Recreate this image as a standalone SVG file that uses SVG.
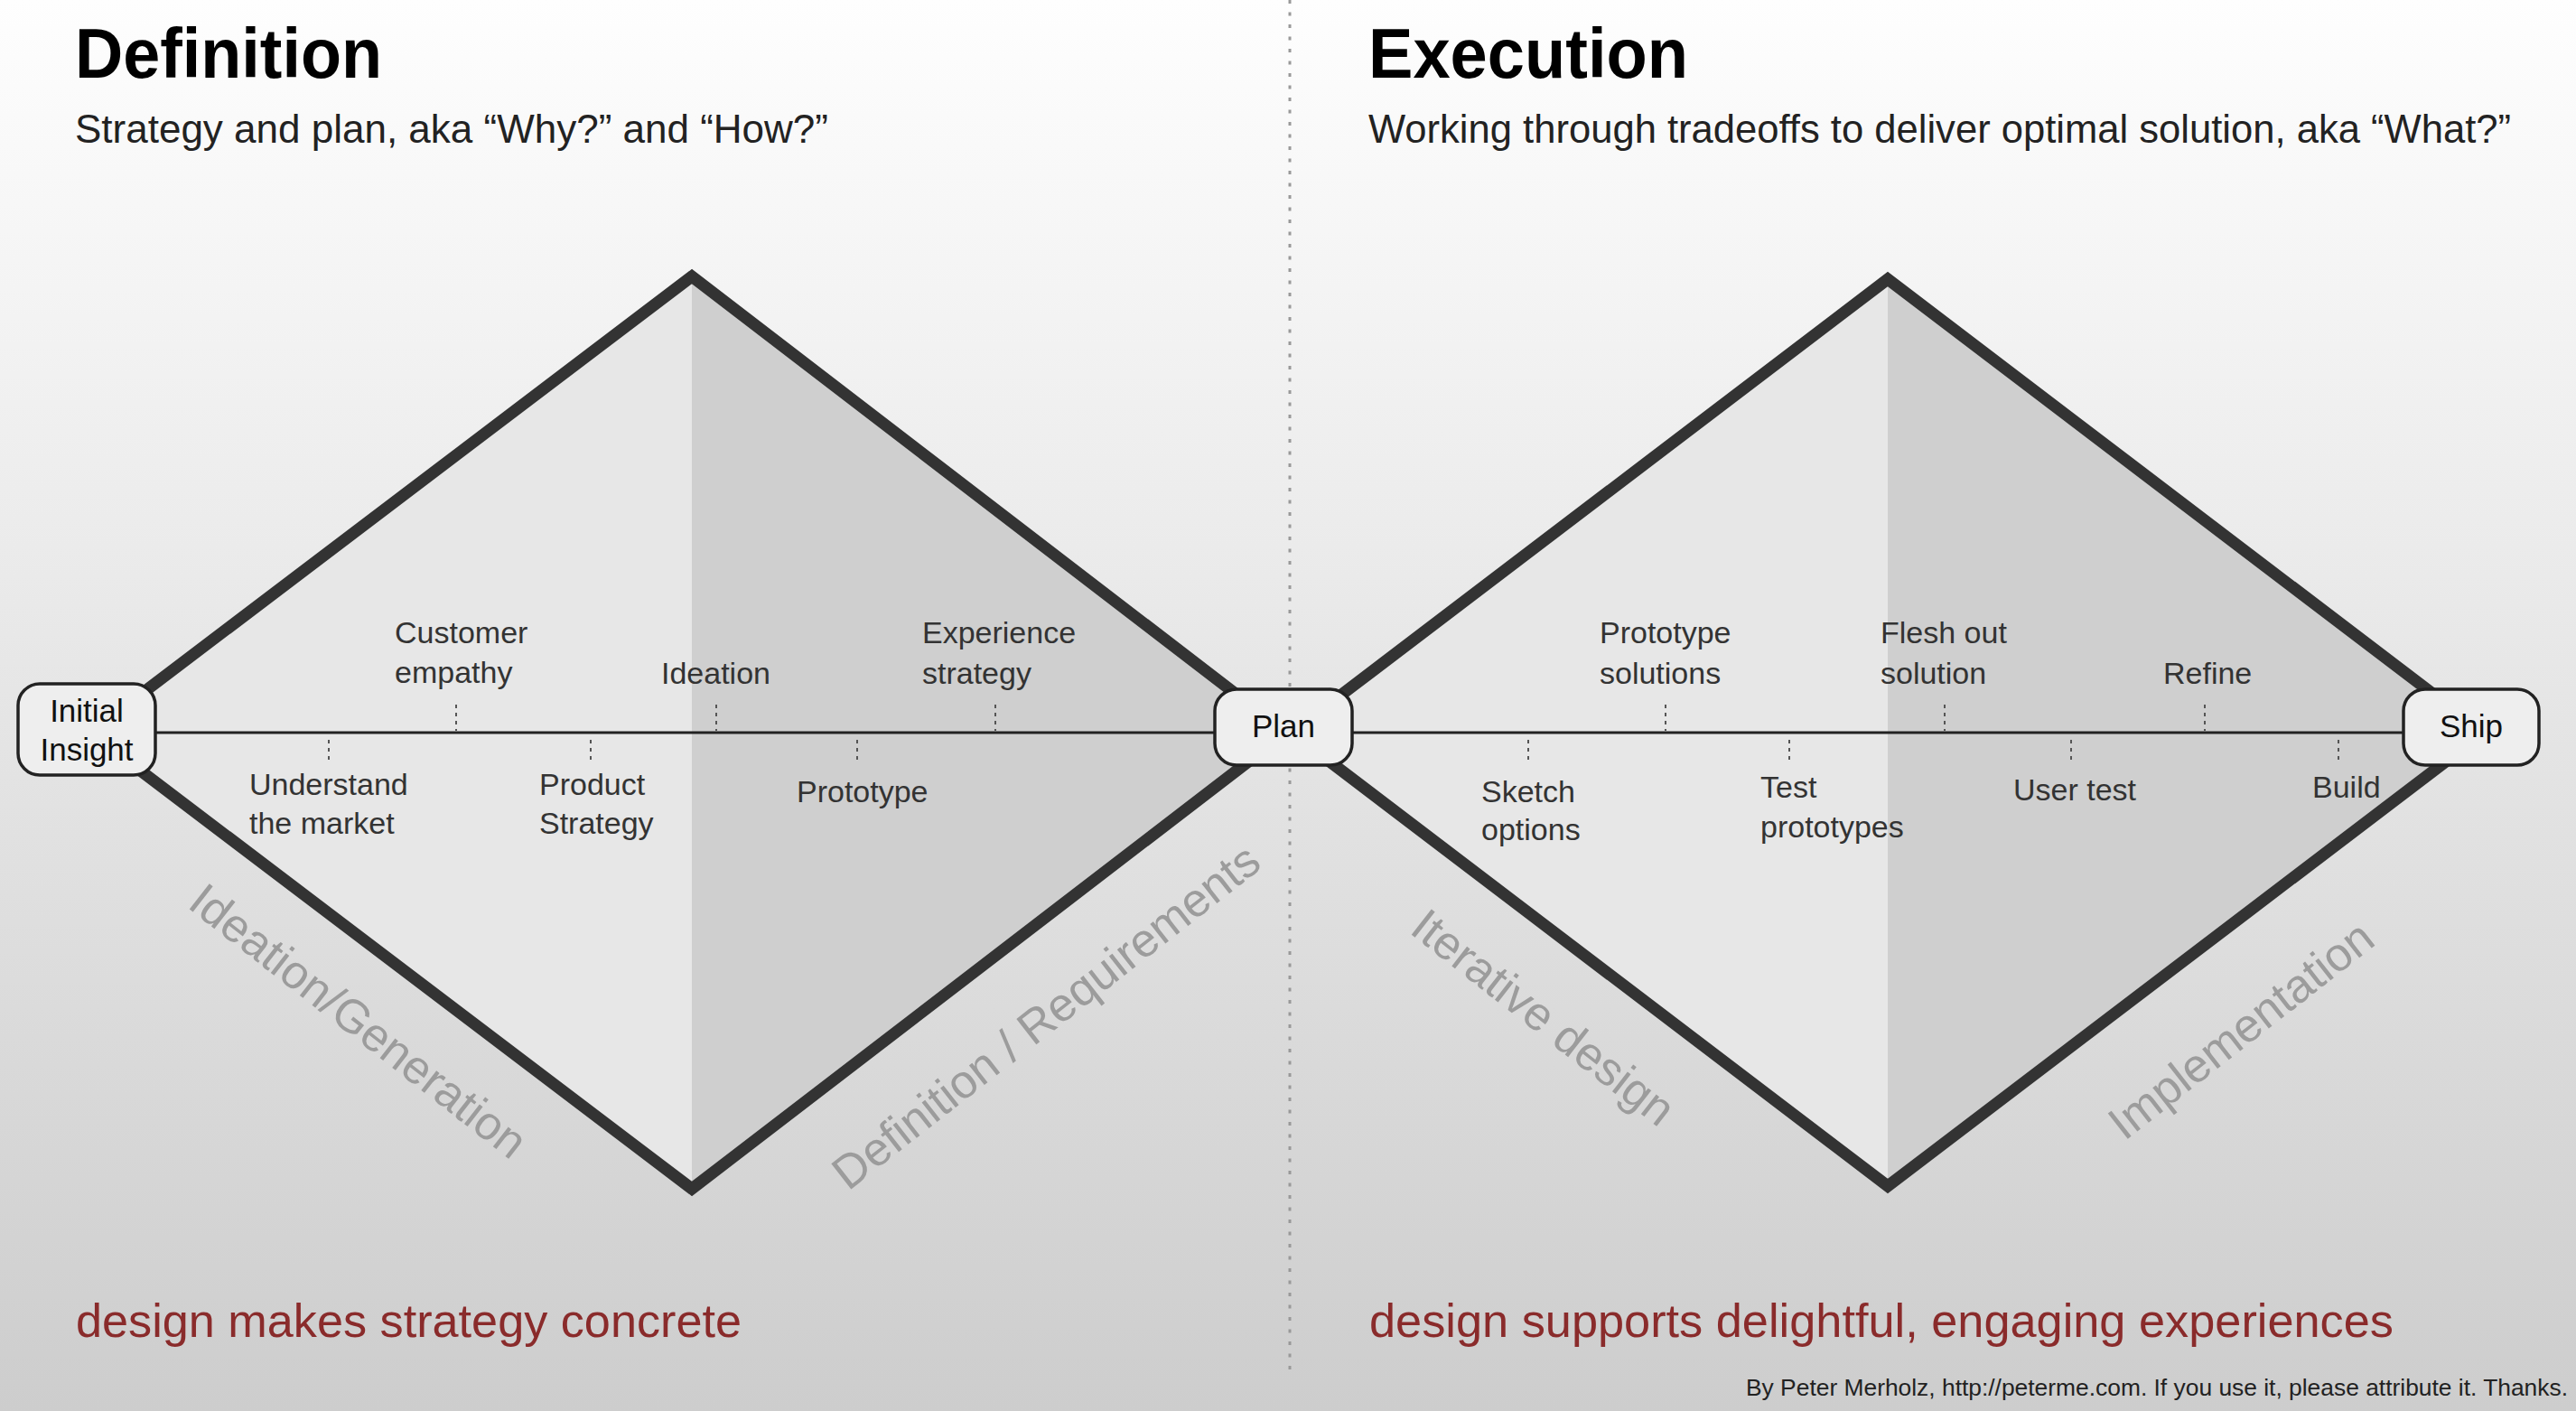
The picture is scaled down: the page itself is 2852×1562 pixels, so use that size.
<svg xmlns="http://www.w3.org/2000/svg" width="2852" height="1562" viewBox="0 0 2852 1562">
<defs>
<linearGradient id="bg" x1="0" y1="0" x2="0" y2="1">
<stop offset="0" stop-color="#fefefe"/>
<stop offset="1" stop-color="#cdcdcd"/>
</linearGradient>
<style>
text{font-family:"Liberation Sans",Arial,Helvetica,sans-serif}
.title{font-size:78px;font-weight:bold;fill:#000}
.sub{font-size:44px;fill:#222}
.lbl{font-size:34px;fill:#333}
.box{fill:#eeeeee;stroke:#222;stroke-width:3.5}
.boxt{font-size:35px;fill:#111;text-anchor:middle}
.edge{fill:none;stroke:#333;stroke-width:13;stroke-linejoin:miter}
.light{fill:#e7e7e7}
.dark{fill:#cfcfcf}
.axis{stroke:#222;stroke-width:3;fill:none}
.tick{stroke:#555;stroke-width:2;stroke-dasharray:4 5;fill:none}
.phase{font-size:52px;fill:#9c9c9c;text-anchor:middle}
.red{font-size:52px;fill:#8a2b2b}
.credit{font-size:26px;fill:#222}
</style>
</defs>
<rect x="0" y="0" width="2852" height="1562" fill="url(#bg)"/>
<line x1="1428" y1="0" x2="1428" y2="1516" stroke="#999" stroke-width="3" stroke-dasharray="4 9.5"/>

<g id="headings">
<text class="title" x="83" y="86" textLength="340" lengthAdjust="spacingAndGlyphs">Definition</text>
<text class="sub" x="83" y="158" textLength="834" lengthAdjust="spacingAndGlyphs">Strategy and plan, aka “Why?” and “How?”</text>
<text class="title" x="1515" y="86" textLength="354" lengthAdjust="spacingAndGlyphs">Execution</text>
<text class="sub" x="1515" y="158" textLength="1265" lengthAdjust="spacingAndGlyphs">Working through tradeoffs to deliver optimal solution, aka “What?”</text>
</g>

<g id="diamond-definition">
<polygon class="light" points="100,811 766,306 766,1316"/>
<polygon class="dark" points="766,306 1424,811 766,1316"/>
<polygon class="edge" points="100,811 766,306 1424,811 766,1316"/>
</g>
<g id="diamond-execution">
<polygon class="light" points="1430,811 2090,309 2090,1313"/>
<polygon class="dark" points="2090,309 2750,811 2090,1313"/>
<polygon class="edge" points="1430,811 2090,309 2750,811 2090,1313"/>
</g>

<g id="connectors">
<line class="axis" x1="172" y1="811" x2="1345" y2="811"/>
<line class="axis" x1="1497" y1="811" x2="2661" y2="811"/>
<line class="tick" x1="364" y1="819" x2="364" y2="843"/>
<line class="tick" x1="505" y1="780" x2="505" y2="809"/>
<line class="tick" x1="654" y1="819" x2="654" y2="843"/>
<line class="tick" x1="793" y1="780" x2="793" y2="809"/>
<line class="tick" x1="949" y1="819" x2="949" y2="843"/>
<line class="tick" x1="1102" y1="780" x2="1102" y2="809"/>
<line class="tick" x1="1692" y1="819" x2="1692" y2="843"/>
<line class="tick" x1="1844" y1="780" x2="1844" y2="809"/>
<line class="tick" x1="1981" y1="819" x2="1981" y2="843"/>
<line class="tick" x1="2153" y1="780" x2="2153" y2="809"/>
<line class="tick" x1="2293" y1="819" x2="2293" y2="843"/>
<line class="tick" x1="2441" y1="780" x2="2441" y2="809"/>
<line class="tick" x1="2589" y1="819" x2="2589" y2="843"/>
</g>

<g id="node-initial-insight">
<rect class="box" x="20" y="757" width="152" height="101" rx="24"/>
<text class="boxt" x="96" y="799">Initial</text>
<text class="boxt" x="96" y="842">Insight</text>
</g>
<g id="node-plan">
<rect class="box" x="1345" y="763" width="152" height="84" rx="24"/>
<text class="boxt" x="1421" y="816">Plan</text>
</g>
<g id="node-ship">
<rect class="box" x="2661" y="763" width="150" height="84" rx="24"/>
<text class="boxt" x="2736" y="816">Ship</text>
</g>

<g id="milestones-definition">
<text class="lbl" x="437" y="712">Customer</text>
<text class="lbl" x="437" y="756">empathy</text>
<text class="lbl" x="732" y="757">Ideation</text>
<text class="lbl" x="1021" y="712">Experience</text>
<text class="lbl" x="1021" y="757">strategy</text>
<text class="lbl" x="276" y="880">Understand</text>
<text class="lbl" x="276" y="923">the market</text>
<text class="lbl" x="597" y="880">Product</text>
<text class="lbl" x="597" y="923">Strategy</text>
<text class="lbl" x="882" y="888">Prototype</text>
</g>
<g id="milestones-execution">
<text class="lbl" x="1771" y="712">Prototype</text>
<text class="lbl" x="1771" y="757">solutions</text>
<text class="lbl" x="2082" y="712">Flesh out</text>
<text class="lbl" x="2082" y="757">solution</text>
<text class="lbl" x="2395" y="757">Refine</text>
<text class="lbl" x="1640" y="888">Sketch</text>
<text class="lbl" x="1640" y="930">options</text>
<text class="lbl" x="1949" y="883">Test</text>
<text class="lbl" x="1949" y="927">prototypes</text>
<text class="lbl" x="2229" y="886">User test</text>
<text class="lbl" x="2560" y="883">Build</text>
</g>

<g id="phase-labels">
<text class="phase" transform="translate(397,1130) rotate(38)" x="0" y="18">Ideation/Generation</text>
<text class="phase" transform="translate(1158,1125) rotate(-38)" x="0" y="18">Definition / Requirements</text>
<text class="phase" transform="translate(1709,1126) rotate(38)" x="0" y="18">Iterative design</text>
<text class="phase" transform="translate(2481,1140) rotate(-38)" x="0" y="18">Implementation</text>
</g>

<g id="footer">
<text class="red" x="84" y="1480" textLength="737" lengthAdjust="spacingAndGlyphs">design makes strategy concrete</text>
<text class="red" x="1516" y="1480" textLength="1134" lengthAdjust="spacingAndGlyphs">design supports delightful, engaging experiences</text>
<text class="credit" x="1933" y="1545" textLength="910" lengthAdjust="spacingAndGlyphs">By Peter Merholz, http://peterme.com. If you use it, please attribute it. Thanks.</text>
</g>
</svg>
